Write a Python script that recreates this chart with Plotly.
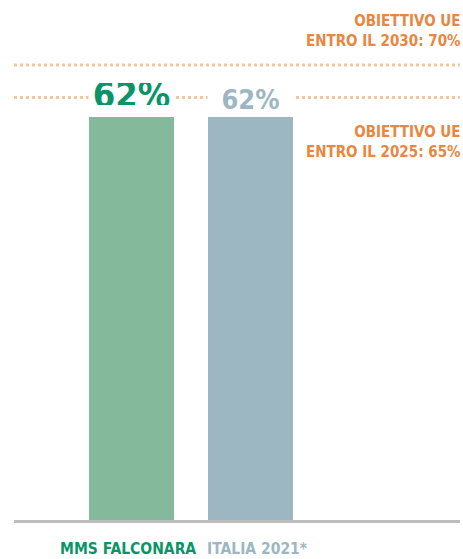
import plotly.graph_objects as go

categories = ["MMS FALCONARA", "ITALIA 2021*"]
values = [62, 62]
bar_colors = ["#84B99C", "#9DB7C2"]
label_colors = ["#0A9467", "#9DB7C2"]
targets = [65, 70]
target_labels = ["OBIETTIVO UE<br>ENTRO IL 2025: 65%", "OBIETTIVO UE<br>ENTRO IL 2030: 70%"]

FONT = "DejaVu Sans Condensed, Liberation Sans Narrow, sans-serif"
ORANGE = "#E8873F"
DOTS = "#F6C59B"

xpos = list(range(len(categories)))
bar_w = 0.714
xmin, xmax = -0.987, 2.76

fig = go.Figure()

# dotted target lines
for t in targets:
    fig.add_trace(go.Scatter(x=[xmin, xmax], y=[t, t], mode="lines",
                             line=dict(color=DOTS, width=3, dash="3px,3px"),
                             hoverinfo="skip", showlegend=False, cliponaxis=False))

fig.add_trace(go.Bar(x=xpos, y=values, width=bar_w, marker=dict(color=bar_colors, line=dict(width=0)),
                     showlegend=False, hoverinfo="skip"))

# value labels (white box hides the dotted line above each bar)
sizes = [36, 27]
shifts = [4, -1]
for i, v in enumerate(values):
    fig.add_annotation(x=xpos[i], y=targets[0], xref="x", yref="y", text=f"{v}%",
                       showarrow=False, width=85, height=22, bgcolor="white", borderpad=0,
                       font=dict(family=FONT, size=sizes[i], color=label_colors[i], weight="bold"),
                       yanchor="middle", yshift=shifts[i])

# category labels below the axis
cat_shift = [-3, 7]
for i, (n, c) in enumerate(zip(categories, label_colors)):
    fig.add_annotation(x=xpos[i], y=0, xref="x", yref="y", text=f"<b>{n}</b>",
                       showarrow=False, xanchor="center", yanchor="top", yshift=-18,
                       xshift=cat_shift[i],
                       font=dict(family=FONT, size=15.5, color=c))

# target annotations
target_y = [142, 31]
for t, lab, py in zip(targets, target_labels, target_y):
    fig.add_annotation(x=1, xref="paper", y=1 - py / 520, yref="paper", text=lab,
                       showarrow=False, xanchor="right", yanchor="middle", align="right",
                       borderpad=0, xshift=2,
                       font=dict(family=FONT, size=15, color=ORANGE, weight="bold"))

fig.update_layout(
    width=463, height=559,
    margin=dict(l=14, r=3, t=0, b=39, autoexpand=False),
    paper_bgcolor="white", plot_bgcolor="white",
    xaxis=dict(range=[xmin, xmax], showticklabels=False, automargin=False,
               showline=True, linecolor="#BDBDBD", linewidth=3, showgrid=False, zeroline=False),
    yaxis=dict(range=[0, 80], visible=False, showgrid=False, zeroline=False),
    bargap=0,
)

fig.write_html("out.html", config={"displayModeBar": False},
               post_script="document.body.style.margin='0';")
